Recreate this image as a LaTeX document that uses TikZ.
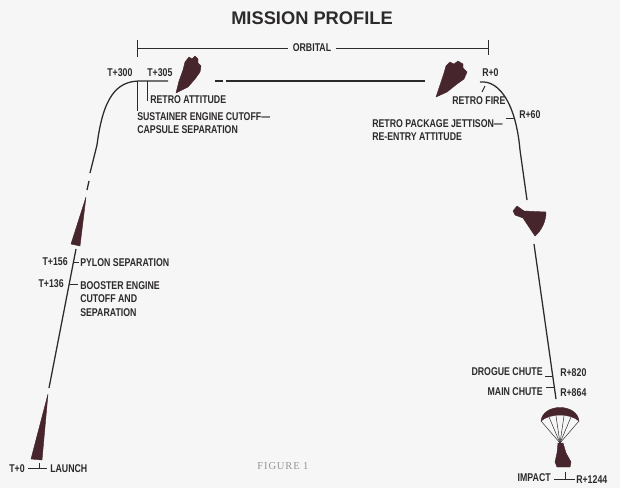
\documentclass[tikz,border=0pt]{standalone}
\usepackage{fontspec}
\setmainfont{Liberation Serif}
\newfontfamily\lblfont[FakeStretch=0.78]{Liberation Sans}
\newfontfamily\ttlfont{Liberation Sans}
\definecolor{ink}{RGB}{45,42,44}
\definecolor{hull}{RGB}{70,38,44}
\definecolor{paper}{RGB}{246,246,246}
\tikzset{
  lbl/.style={inner sep=0pt, text=ink, align=left, font=\lblfont\bfseries\fontsize{8}{9.6}\selectfont},
  trail/.style={line width=0.9pt, draw=ink},
  tick/.style={line width=0.7pt, draw=ink},
  craft/.style={fill=hull, draw=hull, line width=0.3pt, line join=round},
  shroud/.style={line width=0.35pt, draw=ink}
}

\begin{document}
\begin{tikzpicture}[x=0.025cm, y=-0.025cm, >=stealth]
\fill[paper] (0,0) rectangle (620,488);
\useasboundingbox (0,0) rectangle (620,488);

% heading
\node (title) at (312,18) [text=ink, font=\ttlfont\bfseries\fontsize{13}{15}\selectfont] {MISSION PROFILE};
\node (orbital) at (312,48) [lbl, fill=paper, inner xsep=3pt, inner ysep=1pt] {ORBITAL};
\coordinate (ol) at (137,48);
\coordinate (or) at (488,48);
\draw[tick] (ol) -- (orbital);
\draw[tick] (orbital) -- (or);
\draw[tick] (ol) ++(0,-8) -- ++(0,17);
\draw[tick] (or) ++(0,-8) -- ++(0,15);

% points along the flight
\coordinate (lift) at (49,388);
\coordinate (stage) at (76,249);
\coordinate (dashA) at (87,190);
\coordinate (dashB) at (89,181);
\coordinate (pitch) at (90,173);
\coordinate (turn) at (97,145);
\coordinate (ins) at (140,81);
\coordinate (coast) at (168,81);
\coordinate (orbA) at (215,81);
\coordinate (orbB) at (223,81);
\coordinate (orbC) at (226,81);
\coordinate (orbD) at (425,81);
\coordinate (retro) at (480,82);
\coordinate (fall) at (520,150);
\coordinate (fallB) at (527,200);
\coordinate (fallC) at (534,244);
\coordinate (chute) at (556,399);

% ascent
\draw[trail] (lift) -- (stage);
\draw[trail] (dashA) -- (dashB);
\draw[trail] (pitch) -- (turn) .. controls (103,98) and (116,81) .. (ins) -- (coast);
% orbit
\draw[trail] (orbA) -- (orbB);
\draw[trail] (orbC) -- (orbD);
% re-entry
\draw[trail] (retro) .. controls (500,80) and (516,105) .. (fall) -- (fallB);
\draw[trail] (fallC) -- (chute);

% booster at launch and after staging
\fill[craft] (31,459) -- (42,460) -- (48,394) -- cycle;
\fill[craft] (71,244) -- (80,246) -- (86,197) -- cycle;
% capsule with retro pack, twice in orbit
\fill[craft] (176,93) -- (179,81) -- (183,70) -- (185,62) -- (189,57) -- (192,59) -- (195,56)
  -- (198,59) -- (198,63) -- (201,66) -- (200,72) -- (195,79) -- (188,87) -- cycle;
\fill[craft] (436,97) -- (440,85) -- (444,73) -- (446,66) -- (450,62) -- (454,64) -- (458,61)
  -- (463,64) -- (463,68) -- (467,72) -- (464,79) -- (457,84) -- (447,92) -- cycle;
% capsule on re-entry
\fill[craft] (513,211) -- (517,206) -- (524,211) -- (546,212)
  .. controls (546,222) and (541,231) .. (535,236) -- (523,218) -- (515,215) -- cycle;
% main chute and capsule
\fill[craft] (541,421) .. controls (543,403) and (577,403) .. (579,421)
  .. controls (570,413) and (550,413) .. (541,421) -- cycle;
\coordinate (hang) at (560,443);
\foreach \x/\y in {541/421, 549/417, 556/416, 564/416, 571/417, 579/421}
  \draw[shroud] (\x,\y) -- (hang);
\fill[craft] (558,443) -- (563,443) -- (566,453) -- (571,462) -- (570,467) -- (557,467) -- (555,462) -- (557,453) -- cycle;

% launch side labels
\node (t0) at (25,469) [lbl, anchor=east] {T+0};
\node (launch) at (50,469) [lbl, anchor=west] {LAUNCH};
\draw[tick] (28,468) -- (47,468);
\draw[tick] (39,463) -- (39,468);
\node (t136) at (64,284) [lbl, anchor=east] {T+136};
\node (booster) at (80,281) [lbl, anchor=north west] {BOOSTER ENGINE\\CUTOFF AND\\SEPARATION};
\draw[tick] (70,284) -- (78,284);
\node (t156) at (68,262) [lbl, anchor=east] {T+156};
\node (pylon) at (80,263) [lbl, anchor=west] {PYLON SEPARATION};
\draw[tick] (74,262) -- (79,262);

% insertion labels
\node (t300) at (107,73) [lbl, anchor=west] {T+300};
\node (t305) at (147,73) [lbl, anchor=west] {T+305};
\draw[tick] (137,81) -- (137,111);
\draw[tick] (147,81) -- (147,101);
\node (retroatt) at (150,100) [lbl, anchor=west] {RETRO ATTITUDE};
\node (sustainer) at (137,112) [lbl, anchor=north west] {SUSTAINER ENGINE CUTOFF\textemdash\\CAPSULE SEPARATION};

% retro and recovery labels
\node (r0) at (482,73) [lbl, anchor=west] {R+0};
\node (retrofire) at (452,101) [lbl, anchor=west] {RETRO FIRE};
\draw[tick] (485,86) -- (482,92);
\node (r60) at (519,115) [lbl, anchor=west] {R+60};
\draw[tick] (506,118) -- (515,118);
\node (jettison) at (372,119) [lbl, anchor=north west] {RETRO PACKAGE JETTISON\textemdash\\RE-ENTRY ATTITUDE};
\node (drogue) at (543,372) [lbl, anchor=east] {DROGUE CHUTE};
\node (r820) at (560,373) [lbl, anchor=west] {R+820};
\draw[tick] (545,376) -- (552,376);
\node (main) at (543,392) [lbl, anchor=east] {MAIN CHUTE};
\node (r864) at (560,393) [lbl, anchor=west] {R+864};
\draw[tick] (546,387) -- (554,387);
\node (impact) at (551,478) [lbl, anchor=east] {IMPACT};
\node (r1244) at (576,480) [lbl, anchor=west] {R+1244};
\draw[tick] (554,479) -- (575,479);
\draw[tick] (565,472) -- (565,479);

\node (fig) at (283,466) [text=ink!50, font=\addfontfeature{LetterSpace=8}\fontsize{7.5}{9}\selectfont] {FIGURE 1};
\end{tikzpicture}
\end{document}
